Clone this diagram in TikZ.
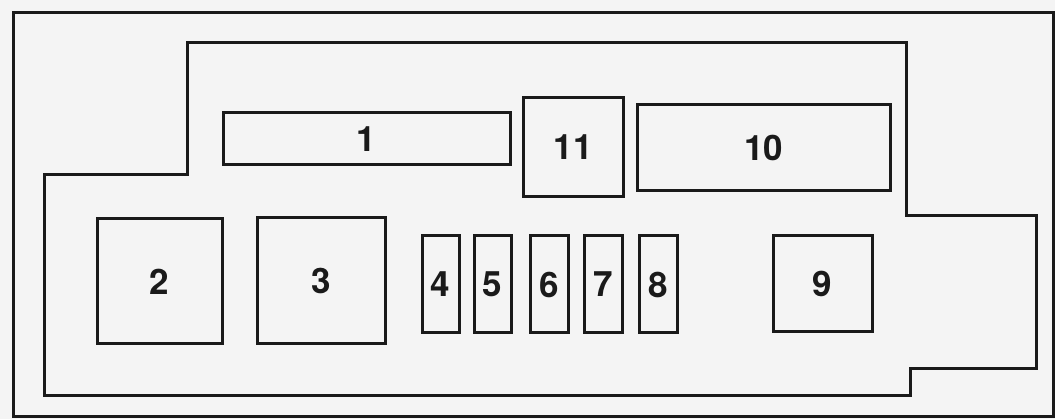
\documentclass[tikz,border=0pt]{standalone}
\usepackage{fontspec}
\setmainfont{TeX Gyre Heros}
\definecolor{bg}{HTML}{F4F4F4}
\definecolor{ink}{HTML}{1A1A1A}
\begin{document}
\begin{tikzpicture}[x=1pt,y=-1pt,
  fuse/.style={draw=ink,line width=3pt,inner sep=0pt,font=\fontsize{35}{35}\selectfont\bfseries,text=ink},
  outline/.style={draw=ink,line width=3pt,line join=miter}]
\fill[bg] (0,0) rectangle (1055,419);
\useasboundingbox (0,0) rectangle (1055,419);
\draw[outline] (13,13) rectangle (1053,417);
\draw[outline] (187,43) -- (906,43) -- (906,216) -- (1036,216) -- (1036,369) -- (910,369) -- (910,396) -- (44,396) -- (44,175) -- (187,175) -- cycle;
\node[fuse,minimum width=287pt,minimum height=52pt] (f1) at (366.5,139) {1};
\node[fuse,minimum width=100pt,minimum height=99pt] (f11) at (573,147.5) {11};
\node[fuse,minimum width=253pt,minimum height=86pt] (f10) at (763.5,147.5) {10};
\node[fuse,minimum width=125pt,minimum height=125pt] (f2) at (159.5,281.5) {2};
\node[fuse,minimum width=128pt,minimum height=126pt] (f3) at (321.5,281) {3};
\node[fuse,minimum width=37pt,minimum height=97pt] (f4) at (440.5,284.5) {4};
\node[fuse,minimum width=37pt,minimum height=97pt] (f5) at (492.5,284.5) {5};
\node[fuse,minimum width=38pt,minimum height=97pt] (f6) at (549,284.5) {6};
\node[fuse,minimum width=38pt,minimum height=97pt] (f7) at (603,284.5) {7};
\node[fuse,minimum width=38pt,minimum height=97pt] (f8) at (658,284.5) {8};
\node[fuse,minimum width=99pt,minimum height=96pt] (f9) at (822.5,284) {9};
\end{tikzpicture}
\end{document}
